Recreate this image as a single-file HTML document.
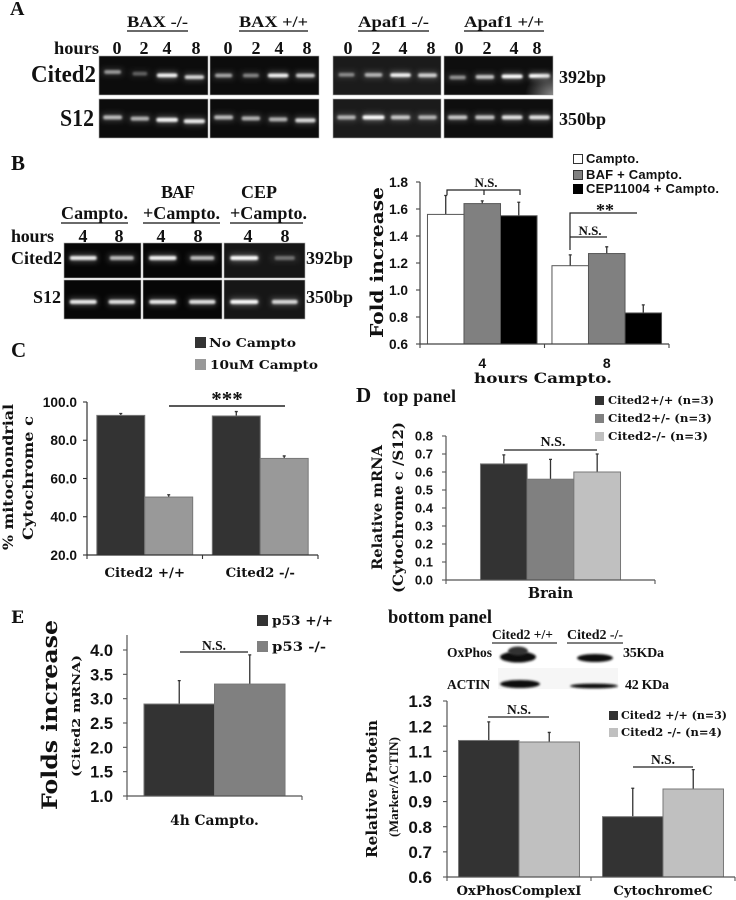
<!DOCTYPE html>
<html lang="en">
<head>
<meta charset="utf-8">
<title>Cited2 figure</title>
<style>
html,body{margin:0;padding:0;background:#fff;width:736px;height:900px;overflow:hidden}
svg{display:block}
.ser{font-family:"Liberation Serif",serif;font-weight:bold;fill:#111}
.dej{font-family:"DejaVu Serif",serif;font-weight:bold;fill:#111}
.san{font-family:"Liberation Sans",sans-serif;font-weight:bold;fill:#111}
</style>
</head>
<body>
<svg id="fig" xmlns="http://www.w3.org/2000/svg" width="736" height="900" viewBox="0 0 736 900">
<defs>
<filter id="b1" x="-30%" y="-100%" width="160%" height="300%"><feGaussianBlur stdDeviation="1"/></filter>
<filter id="b3" x="-40%" y="-200%" width="180%" height="500%"><feGaussianBlur stdDeviation="3"/></filter>
<radialGradient id="glow" cx="100%" cy="100%" r="100%"><stop offset="0" stop-color="#888"/><stop offset="1" stop-color="#888" stop-opacity="0"/></radialGradient>
</defs>
<rect width="736" height="900" fill="#fff"/>

<g id="gels"></g>

<!-- Panel A -->
<g>
<text class="ser" x="10" y="15" font-size="20">A</text>
<text class="ser" x="127" y="27" font-size="16" textLength="61" lengthAdjust="spacingAndGlyphs">BAX -/-</text>
<text class="ser" x="239" y="27" font-size="16" textLength="69" lengthAdjust="spacingAndGlyphs">BAX +/+</text>
<text class="ser" x="358" y="27" font-size="16" textLength="71" lengthAdjust="spacingAndGlyphs">Apaf1 -/-</text>
<text class="ser" x="464" y="27" font-size="16" textLength="80" lengthAdjust="spacingAndGlyphs">Apaf1 +/+</text>
<path d="M127 31H188M239 31H308M358 31H429M464 31H544" stroke="#111" stroke-width="1.2"/>
<text class="ser" x="54" y="54" font-size="18" textLength="45" lengthAdjust="spacingAndGlyphs">hours</text>
<g font-size="18" text-anchor="middle">
<text class="ser" x="117" y="54">0</text><text class="ser" x="144" y="54">2</text><text class="ser" x="167" y="54">4</text><text class="ser" x="196" y="54">8</text>
<text class="ser" x="228" y="54">0</text><text class="ser" x="256" y="54">2</text><text class="ser" x="279" y="54">4</text><text class="ser" x="307" y="54">8</text>
<text class="ser" x="348" y="54">0</text><text class="ser" x="376" y="54">2</text><text class="ser" x="403" y="54">4</text><text class="ser" x="431" y="54">8</text>
<text class="ser" x="459" y="54">0</text><text class="ser" x="487" y="54">2</text><text class="ser" x="514" y="54">4</text><text class="ser" x="537" y="54">8</text>
</g>
<text class="ser" x="31" y="82" font-size="24" textLength="65" lengthAdjust="spacingAndGlyphs">Cited2</text>
<text class="ser" x="60" y="126" font-size="24" textLength="34" lengthAdjust="spacingAndGlyphs">S12</text>
<text class="ser" x="559" y="83" font-size="18" textLength="47" lengthAdjust="spacingAndGlyphs">392bp</text>
<text class="ser" x="559" y="125" font-size="18" textLength="47" lengthAdjust="spacingAndGlyphs">350bp</text>
</g>

<!-- Panel B gel labels -->
<g>
<text class="ser" x="11" y="170" font-size="21">B</text>
<text class="ser" x="178" y="198" font-size="18" text-anchor="middle" textLength="34" lengthAdjust="spacing">BAF</text>
<text class="ser" x="259" y="198" font-size="18" text-anchor="middle" textLength="36" lengthAdjust="spacing">CEP</text>
<text class="ser" x="61" y="219" font-size="18" textLength="67" lengthAdjust="spacing">Campto.</text>
<text class="ser" x="143" y="219" font-size="18" textLength="77" lengthAdjust="spacing">+Campto.</text>
<text class="ser" x="230" y="219" font-size="18" textLength="77" lengthAdjust="spacing">+Campto.</text>
<path d="M61 223H128M143 223H220M230 223H303" stroke="#111" stroke-width="1.2"/>
<text class="ser" x="11" y="242" font-size="18" textLength="43" lengthAdjust="spacing">hours</text>
<g font-size="18" text-anchor="middle">
<text class="ser" x="83" y="242">4</text><text class="ser" x="119" y="242">8</text>
<text class="ser" x="161" y="242">4</text><text class="ser" x="198" y="242">8</text>
<text class="ser" x="248" y="242">4</text><text class="ser" x="285" y="242">8</text>
</g>
<text class="ser" x="11" y="264" font-size="18" textLength="51" lengthAdjust="spacing">Cited2</text>
<text class="ser" x="33" y="303" font-size="18" textLength="28" lengthAdjust="spacing">S12</text>
<text class="ser" x="306" y="264" font-size="18" textLength="47" lengthAdjust="spacing">392bp</text>
<text class="ser" x="306" y="303" font-size="18" textLength="47" lengthAdjust="spacing">350bp</text>
</g>

<!-- Chart B annotation -->
<g>
<rect x="573.5" y="154.5" width="9" height="9" fill="#fff" stroke="#333"/>
<rect x="573.5" y="170.5" width="9" height="9" fill="#808080" stroke="#333"/>
<rect x="573" y="184" width="10" height="10" fill="#000"/>
<text class="san" x="586" y="163" font-size="13" textLength="53" lengthAdjust="spacing">Campto.</text>
<text class="san" x="586" y="179" font-size="13" textLength="96" lengthAdjust="spacing">BAF + Campto.</text>
<text class="san" x="586" y="193" font-size="13" textLength="133" lengthAdjust="spacing">CEP11004 + Campto.</text>
<text class="dej" transform="translate(383,338) rotate(-90)" font-size="18" textLength="151" lengthAdjust="spacingAndGlyphs">Fold increase</text>
<text class="dej" x="474" y="383" font-size="14" textLength="138" lengthAdjust="spacingAndGlyphs">hours Campto.</text>
<text class="ser" x="486" y="187" font-size="13" text-anchor="middle">N.S.</text>
<path d="M447 195V190H520V195M484 190V195" fill="none" stroke="#222" stroke-width="1.2"/>
<text class="ser" x="605" y="216" font-size="18" text-anchor="middle">**</text>
<path d="M637 213H570V250M570 237H607" fill="none" stroke="#222" stroke-width="1.2"/>
<text class="ser" x="590" y="235" font-size="13" text-anchor="middle">N.S.</text>
</g>

<!-- Panel C annotation -->
<g>
<text class="ser" x="11" y="357" font-size="21">C</text>
<rect x="195" y="337" width="11" height="11" fill="#333"/>
<rect x="195" y="359" width="11" height="11" fill="#999"/>
<text class="dej" x="209" y="347" font-size="12.5" textLength="87" lengthAdjust="spacingAndGlyphs">No Campto</text>
<text class="dej" x="210" y="369" font-size="12.5" textLength="108" lengthAdjust="spacingAndGlyphs">10uM Campto</text>
<text class="dej" transform="translate(13,550) rotate(-90)" font-size="14" textLength="146" lengthAdjust="spacingAndGlyphs">% mitochondrial</text>
<text class="dej" transform="translate(33,540) rotate(-90)" font-size="14" textLength="124" lengthAdjust="spacingAndGlyphs">Cytochrome c</text>
<text class="ser" x="227" y="406" font-size="21" text-anchor="middle" fill="#333">***</text>
<path d="M169 406H285" stroke="#222" stroke-width="1.4"/>
</g>

<!-- Panel D annotation -->
<g>
<text class="ser" x="356" y="402" font-size="21">D</text>
<text class="ser" x="383" y="402" font-size="18" textLength="73" lengthAdjust="spacing">top panel</text>
<rect x="595" y="396" width="9" height="9" fill="#333"/>
<rect x="595" y="414" width="9" height="9" fill="#808080"/>
<rect x="595" y="432" width="9" height="9" fill="#c0c0c0"/>
<text class="dej" x="608" y="404" font-size="11" textLength="106" lengthAdjust="spacingAndGlyphs">Cited2+/+ (n=3)</text>
<text class="dej" x="608" y="422" font-size="11" textLength="104" lengthAdjust="spacingAndGlyphs">Cited2+/- (n=3)</text>
<text class="dej" x="608" y="440" font-size="11" textLength="100" lengthAdjust="spacingAndGlyphs">Cited2-/- (n=3)</text>
<text class="dej" transform="translate(382,570) rotate(-90)" font-size="14" textLength="125" lengthAdjust="spacingAndGlyphs">Relative mRNA</text>
<text class="dej" transform="translate(403,593) rotate(-90)" font-size="14" textLength="171" lengthAdjust="spacingAndGlyphs">(Cytochrome c /S12)</text>
<text class="ser" x="553" y="446" font-size="14" text-anchor="middle">N.S.</text>
<path d="M504 450H597" stroke="#222" stroke-width="1.2"/>
</g>

<!-- Panel E annotation -->
<g>
<text class="dej" x="11" y="623" font-size="17">E</text>
<rect x="257" y="615" width="11" height="11" fill="#333"/>
<rect x="257" y="641" width="11" height="11" fill="#808080"/>
<text class="dej" x="272" y="625" font-size="13" textLength="61" lengthAdjust="spacingAndGlyphs">p53 +/+</text>
<text class="dej" x="272" y="651" font-size="13" textLength="54" lengthAdjust="spacingAndGlyphs">p53 -/-</text>
<text class="dej" transform="translate(57,810) rotate(-90)" font-size="21.5" textLength="190" lengthAdjust="spacingAndGlyphs">Folds increase</text>
<text class="dej" transform="translate(80,777) rotate(-90)" font-size="11.5" textLength="122" lengthAdjust="spacingAndGlyphs">(Cited2 mRNA)</text>
<text class="ser" x="214" y="650" font-size="13.5" text-anchor="middle">N.S.</text>
<path d="M180 652H248" stroke="#222" stroke-width="1.2"/>
</g>

<!-- Panel D bottom: western blot and annotation -->
<g>
<text class="ser" x="388" y="623" font-size="18.5" textLength="104" lengthAdjust="spacing">bottom panel</text>
<text class="ser" x="492" y="639" font-size="13.5" textLength="61" lengthAdjust="spacing">Cited2 +/+</text>
<text class="ser" x="567" y="639" font-size="14" textLength="56" lengthAdjust="spacing">Cited2 -/-</text>
<path d="M492 643H557M567 643H623" stroke="#333" stroke-width="1.2"/>
<text class="ser" x="447" y="657" font-size="13.5" textLength="45" lengthAdjust="spacing">OxPhos</text>
<text class="ser" x="623" y="657" font-size="14" textLength="41" lengthAdjust="spacing">35KDa</text>
<text class="ser" x="447" y="689" font-size="13.5" textLength="43" lengthAdjust="spacing">ACTIN</text>
<text class="ser" x="625" y="689" font-size="14" textLength="44" lengthAdjust="spacing">42 KDa</text>
<rect x="498" y="668" width="120" height="21" fill="#f6f6f6"/>
<ellipse cx="518" cy="657" rx="18" ry="5.5" fill="#111" filter="url(#b1)"/>
<ellipse cx="518" cy="651" rx="10" ry="4.5" fill="#333" filter="url(#b1)"/>
<ellipse cx="595" cy="658" rx="18" ry="4" fill="#111" filter="url(#b1)"/>
<ellipse cx="520" cy="684" rx="20" ry="4" fill="#0c0c0c" filter="url(#b1)"/>
<ellipse cx="594" cy="686" rx="24" ry="2.4" fill="#111" filter="url(#b1)"/>
</g>

<!-- Chart F annotation -->
<g>
<text class="dej" transform="translate(377,858) rotate(-90)" font-size="14.5" textLength="138" lengthAdjust="spacingAndGlyphs">Relative Protein</text>
<text class="ser" transform="translate(398,837) rotate(-90)" font-size="13" textLength="100" lengthAdjust="spacingAndGlyphs">(Marker/ACTIN)</text>
<text class="ser" x="519" y="714" font-size="13.5" text-anchor="middle">N.S.</text>
<path d="M488 717H549" stroke="#222" stroke-width="1.2"/>
<text class="ser" x="663" y="764" font-size="13.5" text-anchor="middle">N.S.</text>
<path d="M633 767H693" stroke="#222" stroke-width="1.2"/>
<rect x="609" y="711" width="9" height="9" fill="#333"/>
<rect x="609" y="728" width="9" height="9" fill="#c0c0c0"/>
<text class="dej" x="621" y="719" font-size="11" textLength="106" lengthAdjust="spacingAndGlyphs">Cited2 +/+ (n=3)</text>
<text class="dej" x="621" y="736" font-size="11" textLength="101" lengthAdjust="spacingAndGlyphs">Cited2 -/- (n=4)</text>
</g>

<g id="charts"></g>
</svg>

<script>
/* Chart B */
const bCategories = ['4', '8'];
const bTicks = ['0.6', '0.8', '1.0', '1.2', '1.4', '1.6', '1.8'];
const bCampto = [1.56, 1.18];
const bBaf = [1.64, 1.27];
const bCep = [1.55, 0.83];
const bCamptoErr = [0.14, 0.08];
const bBafErr = [0.02, 0.05];
const bCepErr = [0.10, 0.06];
/* Chart C */
const cCategories = ['Cited2 +/+', 'Cited2 -/-'];
const cTicks = ['20.0', '40.0', '60.0', '80.0', '100.0'];
const cNoCampto = [93, 92.7];
const cCampto = [50.3, 70.5];
const cNoCamptoErr = [1, 2.3];
const cCamptoErr = [1.2, 1.3];
/* Chart D top */
const dCategories = ['Brain'];
const dTicks = ['0.0', '0.1', '0.2', '0.3', '0.4', '0.5', '0.6', '0.7', '0.8'];
const dWt = [0.645];
const dHet = [0.56];
const dKo = [0.60];
const dWtErr = [0.05];
const dHetErr = [0.11];
const dKoErr = [0.10];
/* Chart E */
const eCategories = ['4h Campto.'];
const eTicks = ['1.0', '1.5', '2.0', '2.5', '3.0', '3.5', '4.0'];
const eWt = [2.89];
const eKo = [3.30];
const eWtErr = [0.48];
const eKoErr = [0.60];
/* Chart D bottom */
const fCategories = ['OxPhosComplexI', 'CytochromeC'];
const fTicks = ['0.6', '0.7', '0.8', '0.9', '1.0', '1.1', '1.2', '1.3'];
const fWt = [1.143, 0.84];
const fKo = [1.137, 0.95];
const fWtErr = [0.074, 0.113];
const fKoErr = [0.038, 0.077];

/* Gel band intensities per lane */
const gelACited2 = [[0.5, 0.25, 0.95, 0.8], [0.55, 0.4, 0.95, 0.75], [0.4, 0.6, 0.95, 0.75], [0.45, 0.7, 1, 1]];
const gelAS12 = [[0.65, 0.6, 0.95, 0.9], [0.65, 0.6, 0.6, 0.8], [0.6, 1, 0.7, 0.6], [0.7, 0.7, 0.85, 0.85]];
const gelBCited2 = [[0.9, 0.65], [0.95, 0.65], [1, 0.3]];
const gelBS12 = [[0.9, 0.85], [0.9, 0.85], [1, 0.8]];

var NS = 'http://www.w3.org/2000/svg';
var chartsG = document.getElementById('charts');
var gelsG = document.getElementById('gels');

function mk(tag, attrs, parent) {
  var el = document.createElementNS(NS, tag);
  for (var k in attrs) el.setAttribute(k, attrs[k]);
  parent.appendChild(el);
  return el;
}

function drawGel(x, y, w, h, lanes, bandFrac, slope, bandW, bandH, bg) {
  var g = mk('g', {}, gelsG);
  
  
  var box = mk('rect', {x: x, y: y, width: w, height: h, fill: bg, stroke: '#aaa', 'stroke-width': 0.6}, g);
  
  
  lanes.forEach(function (v, i) {
    var cx = x + (i + 0.5) * w / lanes.length;
    var cy = y + h * bandFrac + i * slope;
    var halo = mk('rect', {x: cx - bandW / 2, y: cy - bandH, width: bandW, height: bandH * 2, fill: '#fff', opacity: 0.28 * v, filter: 'url(#b3)'}, g);
    
    
    var band = mk('rect', {x: cx - bandW * (0.3 + 0.2 * v), y: cy - bandH / 2, width: bandW * (0.6 + 0.4 * v), height: bandH, rx: 2, fill: '#fff', opacity: Math.min(1, 0.08 + v * 0.92), filter: 'url(#b1)'}, g);
    
    
  });
}

function drawChart(c) {
  var g = mk('g', {}, chartsG);
  
  
  var vals = c.ticks.map(Number);
  var vMin = vals[0], vMax = vals[vals.length - 1];
  function yScale(v) { return c.y0 - (v - vMin) / (vMax - vMin) * (c.y0 - c.yMaxPx); }
  var slot = (c.x1 - c.x0) / c.categories.length;
  function xScale(i) { return c.x0 + slot * i; }
  var barW = slot * c.frac / c.series.length;

  c.series.forEach(function (s, si) {
    s.values.forEach(function (v, i) {
      var left = xScale(i) + slot * (1 - c.frac) / 2 + si * barW;
      var top = yScale(v);
      var errTop = yScale(v + s.err[i]);
      var mid = left + barW / 2;
      var line = mk('path', {d: 'M' + mid + ' ' + top + 'V' + errTop + 'm-1.5 0h3', stroke: '#333', 'stroke-width': 1.3, fill: 'none'}, g);
      
      
      var bar = mk('rect', {x: left, y: top, width: barW, height: c.y0 - top, fill: s.color, stroke: c.barStroke, 'stroke-width': 1}, g);
      
      
    });
  });

  var top = c.axisTop === undefined ? c.yMaxPx : c.axisTop;
  var ax = mk('path', {d: 'M' + c.x0 + ' ' + top + 'V' + c.y0, stroke: c.axisColor, 'stroke-width': 1.2, fill: 'none'}, g);
  
  
  var xa = mk('path', {d: 'M' + c.x0 + ' ' + c.y0 + 'H' + c.x1, stroke: c.axisColor, 'stroke-width': 1.2, fill: 'none'}, g);
  
  

  c.ticks.forEach(function (t, i) {
    var y = yScale(vals[i]);
    var tick = mk('path', {d: 'M' + (c.x0 - 4) + ' ' + y + 'H' + c.x0, stroke: c.axisColor, 'stroke-width': 1.1}, g);
    
    
    var lab = mk('text', {x: c.tickRight, y: y + c.tickSize * 0.36, 'text-anchor': 'end', 'font-size': c.tickSize, 'class': 'san'}, g);
    lab.textContent = t;
    
    
  });

  for (var i = 0; i <= c.categories.length; i++) {
    var tk = mk('path', {d: 'M' + xScale(i) + ' ' + c.y0 + 'v4', stroke: c.axisColor, 'stroke-width': 1.1}, g);
    
    
  }
  c.categories.forEach(function (cat, i) {
    var lab = mk('text', {x: xScale(i) + slot / 2, y: c.catY, 'text-anchor': 'middle', 'font-size': c.catSize, 'class': c.catClass}, g);
    lab.textContent = cat;
    
    
  });
}

/* gels: panel A */
var aX = [99, 210, 333, 444];
var aW = [109, 109, 108, 109];
var aBg = ['#0c0c0c', '#0c0c0c', '#1b1b1b', '#0e0e0e'];
var aFrac = [0.41, 0.5, 0.48, 0.55];
var aSlope = [1.7, 0, 0.2, -0.5];
var aS12Slope = [1.3, 1, 0, 0];
aX.forEach(function (x, i) {
  drawGel(x, 56, aW[i], 39, gelACited2[i], aFrac[i], aSlope[i], 21, 3.8, aBg[i]);
  drawGel(x, 99, aW[i], 39, gelAS12[i], 0.47, aS12Slope[i], 22, 4, aBg[i]);
});
var glow = mk('rect', {x: 525, y: 70, width: 28, height: 25, fill: 'url(#glow)'}, gelsG);


/* gels: panel B */
var bX = [64, 143, 224];
var bW = [77, 79, 81];
bX.forEach(function (x, i) {
  var bg = i === 2 ? '#161616' : '#060606';
  drawGel(x, 243, bW[i], 35, gelBCited2[i], 0.43, 0, 28, 4, bg);
  drawGel(x, 280, bW[i], 39, gelBS12[i], 0.56, 0, 28, 4, bg);
});

drawChart({id: 'b', categories: bCategories, ticks: bTicks, x0: 420, x1: 669, y0: 344, yMaxPx: 182, frac: 0.88,
  axisColor: '#444', barStroke: '#555', tickRight: 408, tickSize: 13.7, catY: 368, catSize: 14, catClass: 'san',
  series: [{name: 'campto', values: bCampto, err: bCamptoErr, color: '#ffffff'},
           {name: 'baf', values: bBaf, err: bBafErr, color: '#808080'},
           {name: 'cep', values: bCep, err: bCepErr, color: '#000000'}]});

drawChart({id: 'c', categories: cCategories, ticks: cTicks, x0: 87, x1: 318, y0: 555, yMaxPx: 402, frac: 0.83,
  axisColor: '#333', barStroke: '#777', tickRight: 77, tickSize: 13.7, catY: 577, catSize: 13.3, catClass: 'dej',
  series: [{name: 'no-campto', values: cNoCampto, err: cNoCamptoErr, color: '#333333'},
           {name: '10um-campto', values: cCampto, err: cCamptoErr, color: '#999999'}]});

drawChart({id: 'd', categories: dCategories, ticks: dTicks, x0: 446, x1: 655, y0: 580, yMaxPx: 436, frac: 0.67,
  axisColor: '#555', barStroke: '#777', tickRight: 433, tickSize: 13, catY: 598, catSize: 14.5, catClass: 'dej',
  series: [{name: 'wt', values: dWt, err: dWtErr, color: '#333333'},
           {name: 'het', values: dHet, err: dHetErr, color: '#808080'},
           {name: 'ko', values: dKo, err: dKoErr, color: '#c0c0c0'}]});

drawChart({id: 'e', categories: eCategories, ticks: eTicks, x0: 127, x1: 302, y0: 796, yMaxPx: 650, axisTop: 635, frac: 0.806,
  axisColor: '#555', barStroke: '#777', tickRight: 113, tickSize: 16.5, catY: 825, catSize: 13.8, catClass: 'dej',
  series: [{name: 'wt', values: eWt, err: eWtErr, color: '#333333'},
           {name: 'ko', values: eKo, err: eKoErr, color: '#808080'}]});

drawChart({id: 'f', categories: fCategories, ticks: fTicks, x0: 447, x1: 735, y0: 877, yMaxPx: 701, frac: 0.84,
  axisColor: '#555', barStroke: '#777', tickRight: 432, tickSize: 17, catY: 895, catSize: 13.2, catClass: 'dej',
  series: [{name: 'wt', values: fWt, err: fWtErr, color: '#333333'},
           {name: 'ko', values: fKo, err: fKoErr, color: '#c0c0c0'}]});
</script>
</body>
</html>
